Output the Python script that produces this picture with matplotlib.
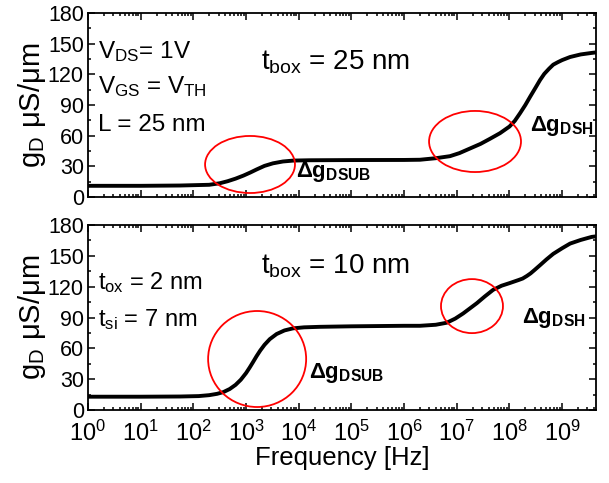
import matplotlib
matplotlib.use("Agg")
import matplotlib.pyplot as plt
import numpy as np
from matplotlib.patches import Ellipse
from matplotlib.ticker import LogLocator, MultipleLocator, NullFormatter

plt.rcParams['font.family'] = ['Liberation Sans', 'DejaVu Sans']
plt.rcParams['mathtext.fontset'] = 'custom'
plt.rcParams['mathtext.rm'] = 'Liberation Sans'
plt.rcParams['mathtext.it'] = 'Liberation Sans:italic'
plt.rcParams['mathtext.bf'] = 'Liberation Sans:bold'

# log10(frequency) and output conductance, tbox = 25 nm
logf_25 = [0, 1, 1.75, 2.3, 2.5, 2.65, 2.8, 2.95, 3.08, 3.2, 3.35, 3.51, 3.7, 3.9,
           4.2, 5, 6, 6.3, 6.6, 6.87, 7.05, 7.25, 7.45, 7.63, 7.82, 8.0, 8.1, 8.2,
           8.3, 8.39, 8.5, 8.58, 8.66, 8.75, 8.83, 8.92, 9.0, 9.15, 9.35, 9.56, 9.64]
gd_25 = [11, 11, 11.3, 12, 13.5, 15.5, 18, 21, 24, 27, 30.5, 33, 34.8, 35.7,
         36, 36.2, 36.3, 36.5, 38, 40, 43, 47.5, 52, 57, 62.5, 69, 74.5, 82,
         90, 98, 107.5, 114.5, 120.5, 125.5, 129.5, 132, 134, 137, 139.5, 141, 141.5]

# log10(frequency) and output conductance, tbox = 10 nm
logf_10 = [0, 1, 1.75, 2.1, 2.3, 2.45, 2.57, 2.69, 2.8, 2.9, 3.0, 3.07, 3.13, 3.2,
           3.27, 3.35, 3.45, 3.58, 3.73, 3.89, 4.1, 4.4, 5, 6, 6.3, 6.6, 6.81,
           6.97, 7.12, 7.25, 7.38, 7.53, 7.69, 7.85, 8.0, 8.17, 8.25, 8.33, 8.4,
           8.48, 8.58, 8.7, 8.83, 9.0, 9.15, 9.35, 9.56, 9.64]
gd_10 = [13, 13, 13.2, 13.6, 14.5, 15.8, 17.5, 20.5, 24.5, 29.5, 36, 41.5, 46.5, 52.5,
         58, 63.5, 69, 74, 77.5, 79.5, 80.5, 81, 81.5, 82, 82, 83, 85,
         89, 94, 99, 104, 110.5, 117, 121, 123.5, 126.5, 128, 130.5, 133,
         136.5, 141, 146.5, 152, 157.5, 162, 165.5, 168.5, 169]

xmax = 10 ** 9.64

fig = plt.figure(figsize=(6.09, 4.83), dpi=100)
ax1 = fig.add_axes([0.1445, 0.592, 0.834, 0.381])
ax2 = fig.add_axes([0.1445, 0.151, 0.834, 0.383])

ax1.plot(10 ** np.array(logf_25), gd_25, color='black', lw=2.8, solid_capstyle='butt')
ax2.plot(10 ** np.array(logf_10), gd_10, color='black', lw=2.8, solid_capstyle='butt')

for ax in (ax1, ax2):
    ax.set_xscale('log')
    ax.set_xlim(1, xmax)
    ax.set_ylim(0, 180)
    ax.yaxis.set_major_locator(MultipleLocator(30))
    ax.yaxis.set_minor_locator(MultipleLocator(15))
    ax.xaxis.set_major_locator(LogLocator(base=10, numticks=20))
    ax.xaxis.set_minor_locator(LogLocator(base=10, subs=np.arange(2, 10), numticks=100))
    ax.xaxis.set_minor_formatter(NullFormatter())
    ax.tick_params(which='both', direction='in', top=True, right=True, width=1.1)
    ax.tick_params(which='major', length=5)
    ax.tick_params(which='minor', length=2.5)
    ax.tick_params(axis='y', labelsize=15.5, pad=3)
    ax.tick_params(axis='x', labelsize=17, pad=8)
    for s in ax.spines.values():
        s.set_linewidth(1.3)
    ax.set_ylabel('g$_{\\rm D}$ μS/μm', fontsize=21, labelpad=0)

ax1.tick_params(axis='x', labelbottom=False)
ax2.set_xlabel('Frequency [Hz]', fontsize=18.5, labelpad=0)

# top panel labels
txt = dict(fontsize=17.5, transform=ax1.transAxes, va='center', ha='left')
ax1.text(0.02, 0.79, 'V$_{\\rm DS}$= 1V', **txt)
ax1.text(0.02, 0.60, 'V$_{\\rm GS}$ = V$_{\\rm TH}$', **txt)
ax1.text(0.02, 0.39, 'L = 25 nm', **txt)
ax1.text(0.34, 0.73, 't$_{\\rm box}$ = 25 nm', fontsize=20, transform=ax1.transAxes,
         va='center', ha='left')
ax1.text(0.41, 0.135, 'Δg$_{\\mathbf{DSUB}}$', fontsize=16, fontweight='bold',
         transform=ax1.transAxes, va='center', ha='left')
ax1.text(0.87, 0.385, 'Δg$_{\\mathbf{DSH}}$', fontsize=16, fontweight='bold',
         transform=ax1.transAxes, va='center', ha='left')

# bottom panel labels
txt2 = dict(fontsize=17, transform=ax2.transAxes, va='center', ha='left')
ax2.text(0.02, 0.69, 't$_{\\rm ox}$ = 2 nm', **txt2)
ax2.text(0.02, 0.49, 't$_{\\rm si}$ = 7 nm', **txt2)
ax2.text(0.34, 0.78, 't$_{\\rm box}$ = 10 nm', fontsize=20, transform=ax2.transAxes,
         va='center', ha='left')
ax2.text(0.435, 0.20, 'Δg$_{\\mathbf{DSUB}}$', fontsize=16, fontweight='bold',
         transform=ax2.transAxes, va='center', ha='left')
ax2.text(0.855, 0.50, 'Δg$_{\\mathbf{DSH}}$', fontsize=16, fontweight='bold',
         transform=ax2.transAxes, va='center', ha='left')

# red outlines around the two dispersion steps
for ax, (cx, cy, w, h) in [(ax1, (0.319, 0.177, 0.177, 0.31)),
                           (ax1, (0.762, 0.302, 0.181, 0.332)),
                           (ax2, (0.333, 0.276, 0.193, 0.519)),
                           (ax2, (0.756, 0.562, 0.122, 0.292))]:
    ax.add_patch(Ellipse((cx, cy), w, h, transform=ax.transAxes, fill=False,
                         ec='red', lw=1.3, zorder=3))

fig.savefig('out.png', dpi=100)
